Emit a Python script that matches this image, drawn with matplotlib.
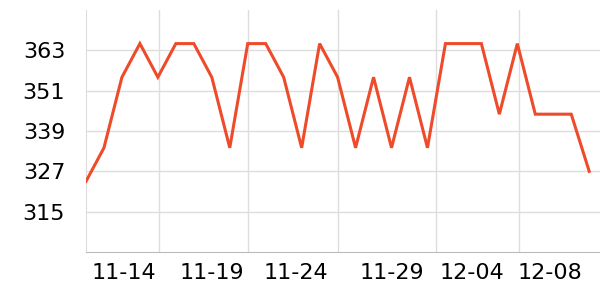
import numpy as np
import matplotlib.pyplot as plt

# daily values, 11-10 .. 12-08
values = [324, 334, 355, 365, 355, 365, 365, 355, 334, 365,
          365, 355, 334, 365, 355, 334, 355, 334, 355, 334,
          365, 365, 365, 344, 365, 344, 344, 344, 327]
y_ticks = [315, 327, 339, 351, 363]
x_labels = ['11-14', '11-19', '11-24', '11-29', '12-04', '12-08']

# where the labels and grid lines sit, in day units from the first point
label_pos = [2.13, 7.0, 11.7, 17.0, 21.5, 25.8]
grid_pos = [4.09, 8.99, 14.05, 19.5, 24.1]

x = np.arange(len(values))

fig = plt.figure(figsize=(6, 3), dpi=100)
ax = fig.add_axes([0.1433, 0.16, 0.8567, 0.8067])

ax.plot(x, values, color='#ee4b2b', lw=2.2, solid_joinstyle='miter', zorder=3)

ax.set_xlim(0, 28.6)
ax.set_ylim(303, 375)

ax.set_yticks(y_ticks)
ax.tick_params(axis='y', length=0, pad=15, labelsize=16)
ax.grid(axis='y', color='#dddddd', lw=1)

ax.set_xticks(grid_pos)
ax.set_xticklabels([''] * len(grid_pos))
ax.set_xticks(label_pos, minor=True)
ax.set_xticklabels(x_labels, minor=True)
ax.tick_params(axis='x', which='major', length=0)
ax.tick_params(axis='x', which='minor', length=0, pad=8, labelsize=16)
ax.grid(axis='x', which='major', color='#dddddd', lw=1)
ax.set_axisbelow(True)

for s in ['top', 'right']:
    ax.spines[s].set_visible(False)
ax.spines['left'].set_color('#dddddd')
ax.spines['bottom'].set_color('#bbbbbb')

fig.savefig('out.png', dpi=100)
